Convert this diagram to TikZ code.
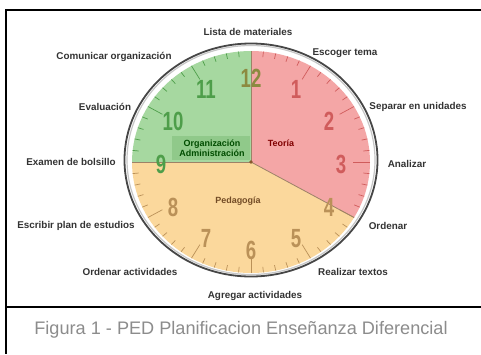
\documentclass[tikz,border=0pt]{standalone}
\usepackage{fontspec}
\setmainfont{Liberation Sans}
\definecolor{gfill}{HTML}{A6D8A0}
\definecolor{rfill}{HTML}{F4A6A6}
\definecolor{yfill}{HTML}{FBD89C}
\definecolor{gdark}{HTML}{4E9E4A}
\definecolor{rdark}{HTML}{D05C5C}
\definecolor{ydark}{HTML}{BA9158}
\definecolor{odark}{HTML}{8C8A40}
\begin{document}
\begin{tikzpicture}[x=1bp,y=-1bp,
  lab/.style={font=\fontsize{9.9}{10.5}\selectfont\bfseries, text=black!80, inner sep=0pt},
  clab/.style={font=\fontsize{9}{10.5}\selectfont\bfseries, inner sep=1pt, align=center},
  num/.style={font=\fontsize{22}{22}\selectfont\bfseries, inner sep=0pt},
  frame/.style={line width=2bp, black},
  sep/.style={line width=0.8bp, brown!60!black!70},
  tick/.style={line width=0.7bp}]
\useasboundingbox (0,0) rectangle (481,354);
\fill[white] (0,0) rectangle (481,354);
% frames
\draw[frame] (481,10) -- (6,10) -- (6,354);
\draw[frame] (6,307) -- (481,307);
% clock sectors
\coordinate (C) at (251,162);
\coordinate (top) at (251,51);
\coordinate (left) at (132,162);
\coordinate (four) at ({251+119*cos(-30)},{162-111*sin(-30)});
\fill[yfill] (C) -- plot[domain=180:330,samples=60] ({251+119*cos(\x)},{162-111*sin(\x)}) -- cycle;
\fill[rfill] (C) -- plot[domain=-30:90,samples=60] ({251+119*cos(\x)},{162-111*sin(\x)}) -- cycle;
\fill[gfill] (C) -- plot[domain=90:180,samples=40] ({251+119*cos(\x)},{162-111*sin(\x)}) -- cycle;
% label background
\fill[gdark!25!gfill] (172,136) rectangle (250,160);
% ticks
\foreach \m in {0,...,59}{
  \pgfmathsetmacro\t{90-6*\m}
  \pgfmathtruncatemacro\h{mod(\m,5)}
  \ifnum\m<20 \def\tc{rdark}\else\ifnum\m<45 \def\tc{ydark}\else\def\tc{gdark}\fi\fi
  \ifnum\h=0 \def\rin{0.86}\else\def\rin{0.95}\fi
  \draw[tick,\tc] ({251+119*cos(\t)},{162-111*sin(\t)}) -- ({251+119*\rin*cos(\t)},{162-111*\rin*sin(\t)});
}
% separators
\draw[sep] (C) -- (top);
\draw[sep] (C) -- (four);
\draw[sep] (C) -- (left);
\fill[brown!70!black] (C) circle[radius=1.8bp];
% outer ring
\draw[gray!45, line width=1.2bp] (251,160) ellipse [x radius=124bp, y radius=114.5bp];
\draw[gray!55!black, line width=1.8bp] (251,160) ellipse [x radius=126.5bp, y radius=116.5bp];
% numbers
\foreach \n/\c in {1/rdark,2/rdark,3/rdark,4/ydark,5/ydark,6/ydark,7/ydark,8/ydark,9/gdark,10/gdark,11/gdark,12/odark}{
  \node[num,text=\c] (num\n) at ({251+90*cos(90-30*\n)},{164-86*sin(90-30*\n)}) {\scalebox{0.85}[1.2]{\n}};
}
% sector labels
\node[clab,text=green!30!black] (org) at (212,148) {Organización\\Administración};
\node[clab,text=red!50!black] (teo) at (281,143) {Teoría};
\node[clab,text=brown!60!black] (ped) at (238,201) {Pedagogía};
% outer labels
\node[lab] (l12) at (248,32) {Lista de materiales};
\node[lab] (l1) at (345,53) {Escoger tema};
\node[lab] (l2) at (418,107) {Separar en unidades};
\node[lab] (l3) at (407,164) {Analizar};
\node[lab] (l4) at (388,226) {Ordenar};
\node[lab] (l5) at (353,272) {Realizar textos};
\node[lab] (l6) at (255,296) {Agregar actividades};
\node[lab] (l7) at (130,272) {Ordenar actividades};
\node[lab] (l8) at (76,226) {Escribir plan de estudios};
\node[lab] (l9) at (71,162) {Examen de bolsillo};
\node[lab] (l10) at (105,107) {Evaluación};
\node[lab] (l11) at (114,57) {Comunicar organización};
% caption
\node[font=\fontsize{18.2}{20}\selectfont, text=black!45, inner sep=0pt] (cap) at (241,330) {Figura 1 - PED Planificacion Enseñanza Diferencial};
\end{tikzpicture}
\end{document}
